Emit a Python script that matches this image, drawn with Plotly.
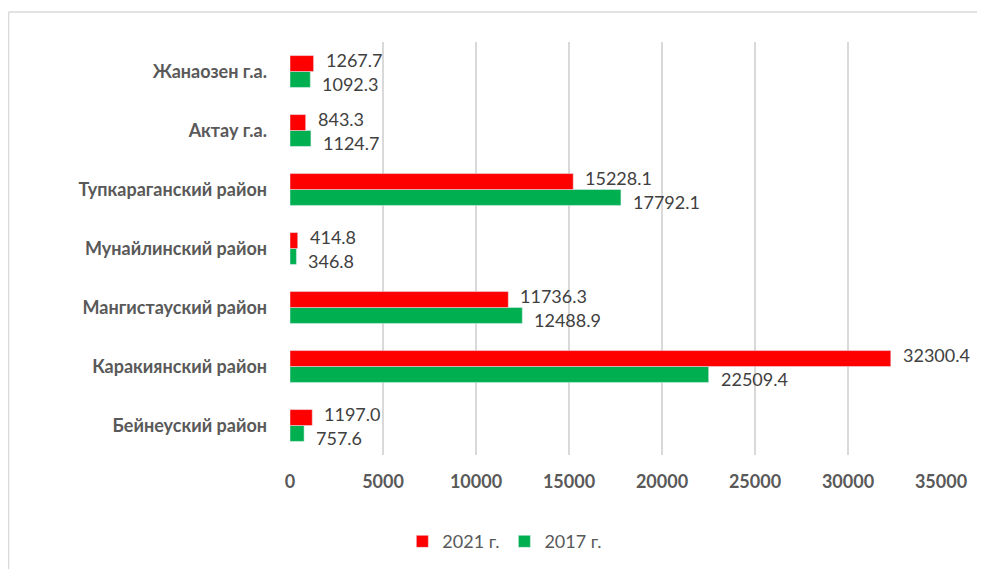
import plotly.graph_objects as go

districts = ["Бейнеуский район", "Каракиянский район", "Мангистауский район",
             "Мунайлинский район", "Тупкараганский район", "Актау г.а.", "Жанаозен г.а."]
values_2021 = [1197.0, 32300.4, 11736.3, 414.8, 15228.1, 843.3, 1267.7]
values_2017 = [757.6, 22509.4, 12488.9, 346.8, 17792.1, 1124.7, 1092.3]
x_ticks = [0, 5000, 10000, 15000, 20000, 25000, 30000, 35000]
x_tick_text = [str(v) for v in x_ticks]

label_font = dict(family="Lato, Open Sans, sans-serif", size=18, color="#404040")

fig = go.Figure()
fig.add_trace(go.Bar(y=districts, x=values_2017, name="2017 г.", orientation="h",
                     marker_color="#00B050"))
fig.add_trace(go.Bar(y=districts, x=values_2021, name="2021 г.", orientation="h",
                     marker_color="#FF0000"))

# value labels: 2021 a little above its bar, 2017 a little below (like Excel did)
for d, v21, v17 in zip(districts, values_2021, values_2017):
    fig.add_annotation(x=v21, y=d, text=f"{v21:.1f}", showarrow=False,
                       xanchor="left", yanchor="middle", xshift=10, yshift=12,
                       font=label_font)
    fig.add_annotation(x=v17, y=d, text=f"{v17:.1f}", showarrow=False,
                       xanchor="left", yanchor="middle", xshift=10, yshift=-12,
                       font=label_font)

# page puts the figure 8px in from the window corner
W, H = 977, 561
L, R, T, B = 282, 44, 34, 114
pw = W - L - R
ph = H - T - B
px = lambda v: (v - L) / pw
py = lambda v: (H - B - v) / ph
frame = dict(color="#d9d9d9", width=1.5)
fig.add_shape(type="line", xref="paper", yref="paper",
              x0=px(0.5), x1=px(W), y0=py(4), y1=py(4), line=frame)
fig.add_shape(type="line", xref="paper", yref="paper",
              x0=px(0.5), x1=px(0.5), y0=py(4), y1=py(H), line=frame)

fig.update_layout(
    width=W, height=H,
    margin=dict(l=L, r=R, t=T, b=B, autoexpand=False),
    barmode="group", bargap=0.46, bargroupgap=0,
    plot_bgcolor="white", paper_bgcolor="white",
    font=dict(family="Lato, Open Sans, sans-serif", color="#595959"),
    legend=dict(orientation="h", x=0.33, xanchor="center", y=-0.165, yanchor="top",
                traceorder="reversed", font=dict(size=18, color="#595959")),
    showlegend=True,
)
fig.update_xaxes(range=[0, 35000], tickvals=x_ticks, ticktext=x_tick_text,
                 showgrid=True, gridcolor="#d9d9d9",
                 gridwidth=1.5, zeroline=False, showline=False,
                 tickfont=dict(size=18, color="#595959", weight="bold"),
                 ticklabelstandoff=14)
fig.update_yaxes(showgrid=False, showline=False, ticks="",
                 tickfont=dict(size=18, color="#595959", weight="bold"),
                 ticklabelstandoff=22)

fig.write_html("out.html")
